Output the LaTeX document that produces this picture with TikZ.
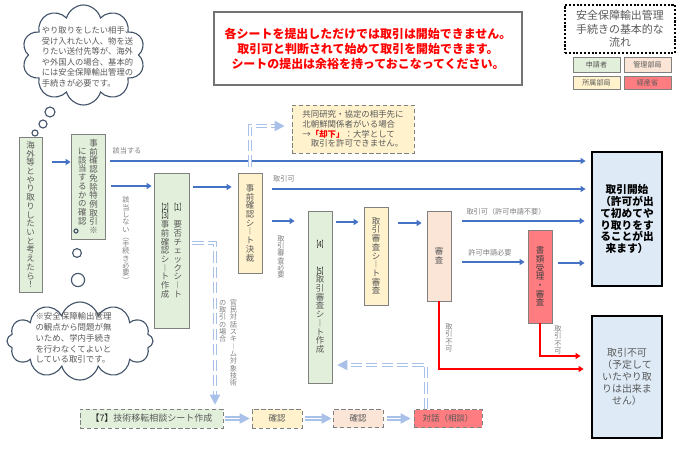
\documentclass[tikz,border=0pt]{standalone}
\usepackage{fontspec}
\setmainfont{Noto Sans CJK JP}
\usepackage{graphicx}
\usepackage{tikz}
\usetikzlibrary{shapes.symbols,arrows.meta,decorations.markings,calc}

\definecolor{appgreen}{HTML}{E2EFDA}
\definecolor{deptyellow}{HTML}{FFF2CC}
\definecolor{mgmtpeach}{HTML}{FBE5D6}
\definecolor{metired}{HTML}{FF7C80}
\definecolor{endblue}{HTML}{DEEBF7}
\definecolor{flowblue}{HTML}{4472C4}
\definecolor{dblblue}{HTML}{A9C1E8}
\definecolor{txtgray}{HTML}{595959}
\definecolor{lblgray}{HTML}{7F7F7F}
\definecolor{cloudline}{HTML}{44546A}

\newcommand\boxfont{\fontsize{6}{6.2}\selectfont}
\newcommand\lblfont{\fontsize{5.1}{5.2}\selectfont}
\newcommand\cloudfont{\fontsize{5.9}{7.5}\selectfont}
\newcommand\titlefont{\fontsize{8.5}{10.7}\selectfont}
\newcommand\gofont{\fontsize{7.6}{8.5}\selectfont}

\def\tateend{\tateend}
\def\tateloop#1{\ifx\tateend#1\else\hbox to 1em{\hss#1\hss}\expandafter\tateloop\fi}
\newcommand\tate[1]{\vbox{\lineskiplimit=-100pt\tateloop#1\tateend}}
\newcommand\tatepair[2]{\hbox{$\vcenter{\lineskiplimit=-100pt\tateloop#2\tateend}$\hskip.35em$\vcenter{\lineskiplimit=-100pt\tateloop#1\tateend}$}}
\newcommand\tatetop[2]{\hbox{\vtop{\lineskiplimit=-100pt\tateloop#2\tateend}\hskip.5em\vtop{\lineskiplimit=-100pt\tateloop#1\tateend}}}
\newcommand\tcy[1]{\textcolor{black!85}{\scalebox{.4}[1]{\bfseries【}\scalebox{.8}[1]{#1}\scalebox{.4}[1]{\bfseries】}}}
\def\bki{\tcy1}
\def\bkii{\tcy2}
\def\bkiii{\tcy3}
\def\bkiv{\tcy4}
\def\bkv{\tcy5}

\begin{document}
\begin{tikzpicture}[x=0.025cm, y=-0.025cm,
    sheet/.style={draw=black!50, line width=0.5pt, inner sep=0pt, text=txtgray, font=\boxfont},
    memo/.style={sheet, densely dashed},
    wh/.style 2 args={minimum width=#1cm, minimum height=#2cm},
    lbl/.style={inner sep=0pt, text=lblgray, font=\lblfont},
    flow/.style={draw=flowblue, line width=1.3pt, -{Triangle[length=3.5pt,width=4.2pt]}},
    redflow/.style={draw=red, line width=1pt, -{Triangle[length=3.5pt,width=4.2pt]}},
    dbl/.style={draw=dblblue, line width=0.9pt, double=white, double distance=1.4pt, shorten >=6.5pt,
        postaction={decorate}, decoration={markings, mark=at position 1 with {\fill[dblblue] (0pt,0pt) -- (-7.2pt,3.8pt) -- (-7.2pt,-3.8pt) -- cycle;}}},
    dbldash/.style={dbl, dash pattern=on 8pt off 3pt}]
            \useasboundingbox (0,0) rectangle (680,469);

            \node (title) at (368,48.5) [draw=black!55, line width=1.6pt, wh={7.7}{1.825}, text=red, font=\titlefont\bfseries, align=center] {各シートを提出しただけでは取引は開始できません。\\取引可と判断されて始めて取引を開始できます。\\シートの提出は余裕を持っておこなってください。};
            \node (legend) at (620,29) [draw, line width=1.5pt, dash pattern=on 1.5pt off 1.2pt, wh={2.75}{1.2}, text=txtgray, font=\fontsize{7.8}{9.4}\selectfont, align=center] {安全保障輸出管理\\手続きの基本的な\\流れ};
            \node (leg01) at (596.5,64.5) [sheet, fill=appgreen, wh={1.175}{0.375}, font=\fontsize{5}{6}\selectfont] {申請者};
            \node (leg02) at (647.5,64.5) [sheet, fill=mgmtpeach, wh={1.175}{0.375}, font=\fontsize{5}{6}\selectfont] {管理部局};
            \node (leg03) at (596.5,82.5) [sheet, fill=deptyellow, wh={1.175}{0.325}, font=\fontsize{5}{6}\selectfont] {所属部局};
            \node (leg04) at (647.5,82.5) [sheet, fill=metired, wh={1.175}{0.325}, font=\fontsize{5}{6}\selectfont] {経産省};

            \node (cloud01) at (83.5,55) [cloud, cloud puffs=10, aspect=1.3, draw=cloudline, line width=0.8pt, fill=white, wh={3.075}{2.5}] {};
            \node (cloudtext01) at (87.5,57) [inner sep=0pt, text=txtgray, font=\cloudfont, align=left] {やり取りをしたい相手、\\受け入れたい人、物を送\\りたい送付先等が、海外\\や外国人の場合、基本的\\には安全保障輸出管理の\\手続きが必要です。};
            \draw[cloudline, line width=0.8pt] (50,112) circle[radius=0.125cm];
            \draw[cloudline, line width=0.8pt] (43,124) circle[radius=0.1cm];
            \draw[cloudline, line width=0.8pt] (35,133) circle[radius=0.075cm];

            \node (want) at (30.5,214.5) [sheet, fill=appgreen, wh={0.575}{3.875}] {\tate{海外等とやり取りしたいと考えたら！}};
            \node (exempt) at (88,186.5) [sheet, fill=appgreen, wh={0.85}{2.625}] {\tatepair{事前確認免除特例取引※}{に該当するかの確認}};
            \node (sheet13) at (171.5,250.5) [sheet, fill=appgreen, wh={0.875}{3.875}] {\tatetop{\bki~要否チェックシ︱ト}{\bkii\bkiii 事前確認シ︱ト作成}};
            \node (decide) at (250,223) [sheet, fill=deptyellow, wh={0.6}{2.5}] {\tate{事前確認シ︱ト決裁}};
            \node (sheet45) at (320,297) [sheet, fill=appgreen, wh={0.6}{4.3}] {\tate{\bkiv~~\bkv 取引審査シ︱ト作成}};
            \node (review) at (376,256) [sheet, fill=deptyellow, wh={0.6}{2.45}] {\tate{取引審査シ︱ト審査}};
            \node (check) at (439,256) [sheet, fill=mgmtpeach, wh={0.6}{2.25}] {\tate{審査}};
            \node (meti) at (540,276.5) [sheet, fill=metired, text=black!75, wh={0.6}{2.325}] {\tate{書類受理・審査}};
            \node (go) at (627,219) [sheet, fill=endblue, draw=black, line width=2pt, wh={1.75}{3.35}, text=black, font=\gofont\bfseries, align=center] {取引開始\\（許可が出\\て初めてや\\り取りをす\\ることが出\\来ます）};
            \node (nogo) at (627,377) [sheet, fill=endblue, draw=black, line width=2pt, wh={1.75}{3.05}, font=\fontsize{7.1}{8.5}\selectfont, align=center] {取引不可\\（予定して\\いたやり取\\りは出来ま\\せん）};
            \node (note) at (353,129) [memo, fill=deptyellow, wh={3.05}{1.2}, font=\fontsize{6}{7}\selectfont, align=left] {共同研究・協定の相手先に\\北朝鮮関係者がいる場合\\→{\color{red}\bfseries「却下」}：大学として\\　取引を許可できません。};

            \node (cloud02) at (80,341) [cloud, cloud puffs=12, aspect=1.9, draw=cloudline, line width=0.8pt, fill=white, wh={3.65}{1.95}] {};
            \node (cloudtext02) at (73.5,338) [inner sep=0pt, text=txtgray, font=\fontsize{6}{7.7}\selectfont, align=left] {※安全保障輸出管理\\の観点から問題が無\\いため、学内手続き\\を行わなくてよいと\\している取引です。};
            \draw[cloudline, line width=0.8pt] (76,231) circle[radius=0.05cm];
            \draw[cloudline, line width=0.8pt] (77,253) circle[radius=0.11cm];
            \draw[cloudline, line width=0.8pt] (78,280) circle[radius=0.165cm];

            \node (sheet7) at (151.5,418.5) [memo, fill=appgreen, wh={3.575}{0.475}, font=\fontsize{6.4}{7}\selectfont] {{\color{black!85}【7】}技術移転相談シート作成};
            \node (conf1) at (277,418.5) [memo, fill=deptyellow, wh={1.25}{0.475}] {確認};
            \node (conf2) at (358,418.5) [memo, fill=mgmtpeach, wh={1.25}{0.45}] {確認};
            \node (talk) at (448,418.5) [memo, fill=metired, wh={1.7}{0.45}] {対話（相談）};

            \draw[flow, shorten <=0.25cm] (want.east |- 0,162) -- (exempt.west |- 0,162);
            \draw[flow, shorten <=0.125cm, shorten >=0.125cm] (exempt.east |- 0,161) -- (go.west |- 0,161);
            \draw[flow, shorten <=0.15cm, shorten >=0.05cm] (exempt.east |- 0,186) -- (sheet13.west |- 0,186);
            \draw[flow, shorten <=0.1cm, shorten >=0.15cm] (sheet13.east |- 0,187) -- (decide.west |- 0,187);
            \draw[flow, shorten <=0.25cm, shorten >=0.125cm] (decide.east |- 0,189) -- (go.west |- 0,189);
            \draw[flow, shorten <=0.25cm, shorten >=0.325cm] (decide.east |- 0,221) -- (sheet45.west |- 0,221);
            \draw[flow, shorten <=0.1cm, shorten >=0.125cm] (sheet45.east |- 0,222) -- (review.west |- 0,222);
            \draw[flow, shorten <=0.25cm, shorten >=0.125cm] (review.east |- 0,223) -- (check.west |- 0,223);
            \draw[flow, shorten <=0.275cm, shorten >=0.15cm] (check.east |- 0,221) -- (go.west |- 0,221);
            \draw[flow, shorten <=0.275cm, shorten >=0.075cm] (check.east |- 0,262) -- (meti.west |- 0,262);
            \draw[flow, shorten <=0.15cm, shorten >=0.15cm] (meti.east |- 0,263) -- (go.west |- 0,263);

            \draw[redflow, shorten >=0.175cm] (check.south) |- (nogo.west |- 0,369);
            \draw[redflow, shorten >=0.25cm] (meti.south) |- (nogo.west |- 0,356);

            \draw[dbl, shorten <=0.05cm] (sheet7.east) -- ($(conf1.west)+(-2,0)$);
            \draw[dbl, shorten <=0.075cm] (conf1.east) -- ($(conf2.west)+(-1,0)$);
            \draw[dbl, shorten <=0.1cm] (conf2.east) -- ($(talk.west)+(-3,0)$);
            \draw[dbldash] (talk.north -| 426,0) |- ($(sheet45.east |- 0,365)+(5,0)$);
            \draw[dbldash, shorten <=0.075cm] (sheet13.east |- 0,243) -| ($(sheet7.north -| 215,0)+(0,-4)$);
            \draw[dbldash, shorten <=0.15cm] (decide.north) |- ($(note.west |- 0,126)+(-7,0)$);

            \node (lbl01) at (127,151) [lbl] {該当する};
            \node (lbl02) at (126,240) [lbl] {\tate{該当しない︵手続き必要︶}};
            \node (lbl03) at (284,179) [lbl] {取引可};
            \node (lbl04) at (281,257) [lbl] {\tate{取引審査必要}};
            \node (lbl05) at (506,212) [lbl] {取引可（許可申請不要）};
            \node (lbl06) at (490,253) [lbl] {許可申請必要};
            \node (lbl07) at (449,338) [lbl] {\tate{取引不可}};
            \node (lbl08) at (558,340) [lbl] {\tate{取引不可}};
            \node (lbl09) at (228,299) [lbl, anchor=north] {\tatetop{官民対話スキ︱ム対象技術}{の取引の場合}};
        \end{tikzpicture}
\end{document}
